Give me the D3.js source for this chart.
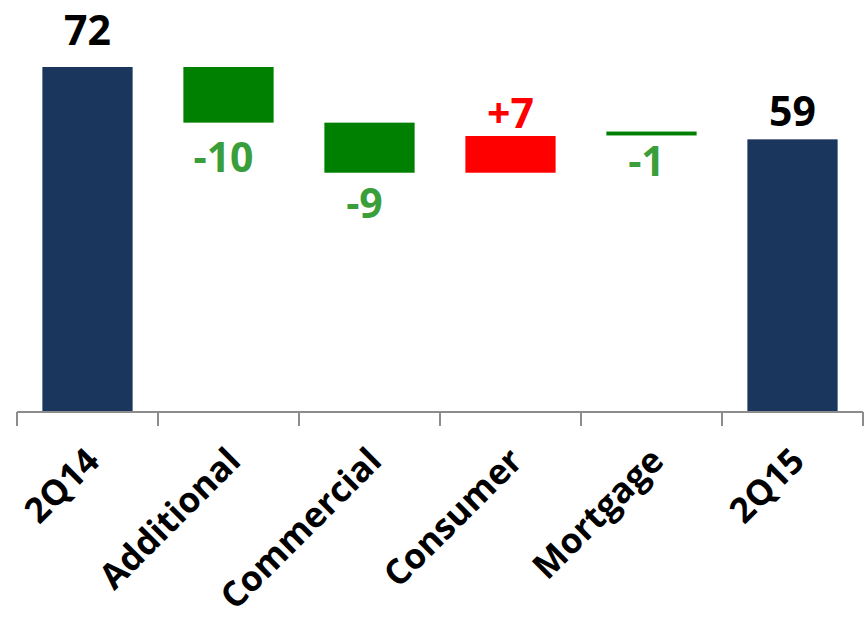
<!DOCTYPE html>
<html>
<head>
<meta charset="utf-8">
<script src="https://cdn.jsdelivr.net/npm/d3@7"></script>
<style>
  body { margin: 0; background: #fff; }
  svg text { font-family: "Open Sans", sans-serif; font-weight: bold; }
</style>
</head>
<body>
<svg id="chart" width="866" height="620"></svg>
<script>
// categories and bar extents (low / high)
var categories = ["2Q14", "Additional", "Commercial", "Consumer", "Mortgage", "2Q15"];
var barLow  = [10, 62, 53, 53, 59.7, 10];
var barHigh = [72, 72, 62, 59.6, 60.4, 59];
var valueLabels = ["72", "-10", "-9", "+7", "-1", "59"];
var barKind = ["total", "down", "down", "up", "down", "total"];

var barColor = { total: "#1b365d", down: "#008000", up: "#ff0000" };
var labelColor = { total: "#000000", down: "#3a9e3a", up: "#ff0000" };

var svg = d3.select("#chart");

var x = d3.scaleBand()
  .domain(categories)
  .range([17, 863])
  .paddingInner(0.36)
  .paddingOuter(0.18);

var y = d3.scaleLinear()
  .domain([10, 72])
  .range([412, 67]);

var data = categories.map(function(c, i) {
  return { cat: c, lo: barLow[i], hi: barHigh[i], label: valueLabels[i], kind: barKind[i] };
});

// bars
svg.append("g").selectAll("rect")
  .data(data)
  .enter().append("rect")
  .attr("x", function(d) { return x(d.cat); })
  .attr("width", x.bandwidth())
  .attr("y", function(d) { return y(d.hi); })
  .attr("height", function(d) { return y(d.lo) - y(d.hi); })
  .attr("fill", function(d) { return barColor[d.kind]; });

// value labels (above for totals and gains, below for drops)
var labelDy = [-22, 49, 45, -8, 41, -13];
svg.append("g").selectAll("text")
  .data(data)
  .enter().append("text")
  .attr("x", function(d) { return x(d.cat) + x.bandwidth() / 2 - (d.kind == "down" ? 5 : 0); })
  .attr("y", function(d, i) {
    return labelDy[i] < 0 ? y(d.hi) + labelDy[i] : y(d.lo) + labelDy[i];
  })
  .attr("text-anchor", "middle")
  .attr("font-size", 41)
  .attr("fill", function(d) { return labelColor[d.kind]; })
  .text(function(d) { return d.label; });

// axis line with ticks between the categories
var axisY = y(10);
var step = x.step();
var x0 = x.range()[0];
var tickPos = d3.range(categories.length + 1).map(function(i) { return x0 + i * step; });

svg.append("line")
  .attr("x1", x0).attr("x2", x.range()[1])
  .attr("y1", axisY).attr("y2", axisY)
  .attr("stroke", "#8c8c8c").attr("stroke-width", 2);

svg.append("g").selectAll("line")
  .data(tickPos)
  .enter().append("line")
  .attr("x1", function(d) { return d; }).attr("x2", function(d) { return d; })
  .attr("y1", axisY).attr("y2", axisY + 14)
  .attr("stroke", "#8c8c8c").attr("stroke-width", 2);

// rotated category labels
svg.append("g").selectAll("text")
  .data(categories)
  .enter().append("text")
  .attr("transform", function(d) {
    return "translate(" + (x(d) + x.bandwidth() / 2 + 14) + "," + (axisY + 51) + ") rotate(-45)";
  })
  .attr("text-anchor", "end")
  .attr("font-size", 35)
  .attr("fill", "#000")
  .text(function(d) { return d; });
</script>
</body>
</html>
